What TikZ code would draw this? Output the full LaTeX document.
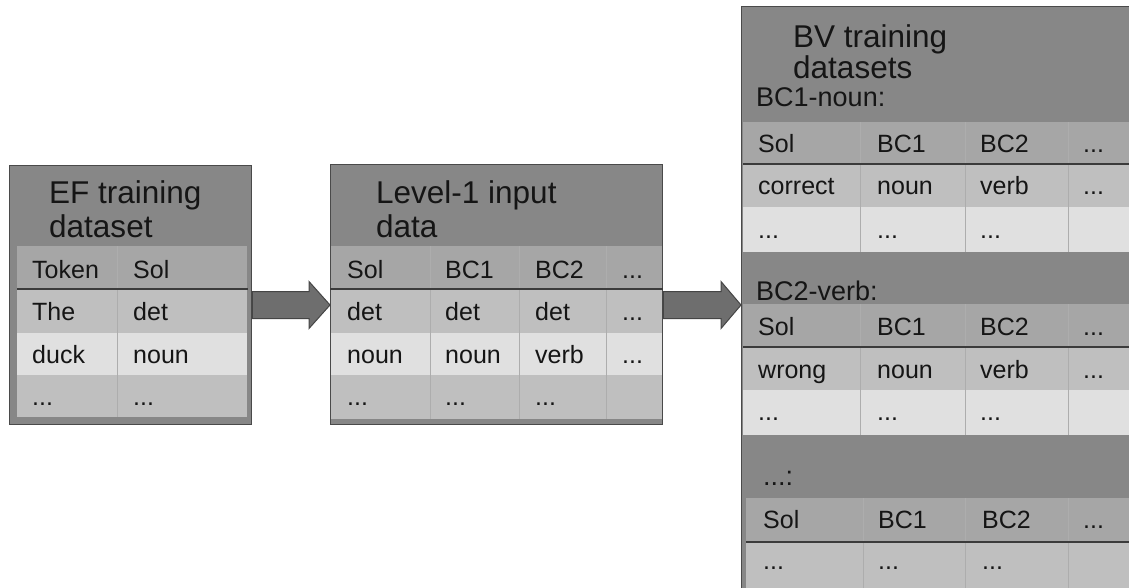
\documentclass[tikz,border=0pt]{standalone}
\usepackage{fontspec}
\setmainfont{Liberation Sans}
\usetikzlibrary{calc}
\definecolor{titlec}{HTML}{878787}
\definecolor{hdrc}{HTML}{A6A6A6}
\definecolor{medc}{HTML}{BFBFBF}
\definecolor{litc}{HTML}{E0E0E0}
\definecolor{bordc}{HTML}{4A4A4A}
\definecolor{sepc}{HTML}{ADADAD}
\definecolor{arrc}{HTML}{6E6E6E}
\definecolor{arrb}{HTML}{454545}
\definecolor{txtc}{HTML}{151515}
\begin{document}
\begin{tikzpicture}[x=1pt,y=-1pt,
  box/.style={draw=bordc, line width=1.3pt, fill=titlec, rectangle, inner sep=0pt, anchor=north west},
  ttl/.style={anchor=base west, inner sep=0pt, font=\fontsize{31.5}{34}\selectfont, text=txtc},
  cell/.style={anchor=base west, inner sep=0pt, font=\fontsize{25}{30}\selectfont, text=txtc},
  sec/.style={anchor=base west, inner sep=0pt, font=\fontsize{27}{30}\selectfont, text=txtc},
  colsep/.style={draw=sepc, line width=0.8pt},
  hline/.style={draw=bordc!80!black, line width=1.2pt},
  arr/.style={fill=arrc, draw=arrb, line width=1pt, line join=miter}
]
\useasboundingbox (0,0) rectangle (1129,587);
\clip (0,0) rectangle (1129,587);

% boxes
\node[box, minimum width=242pt, minimum height=259pt] (ef) at (9,165) {};
\node[box, minimum width=332pt, minimum height=260pt] (lv) at (330,164) {};
\node[box, minimum width=420pt, minimum height=620pt] (bv) at (741,6) {};

% arrows
\coordinate (a1s) at (ef.east |- 0,305);
\coordinate (a1e) at (lv.west |- 0,305);
\coordinate (a2s) at (lv.east |- 0,305);
\coordinate (a2e) at (bv.west |- 0,305);
\draw[arr] ($(a1s)+(0,-13.5)$) -- ($(a1e)+(-21,-13.5)$) -- ($(a1e)+(-21,-23.5)$) -- (a1e)
  -- ($(a1e)+(-21,23.5)$) -- ($(a1e)+(-21,13.5)$) -- ($(a1s)+(0,13.5)$) -- cycle;
\draw[arr] ($(a2s)+(0,-13.5)$) -- ($(a2e)+(-20,-13.5)$) -- ($(a2e)+(-20,-23.5)$) -- (a2e)
  -- ($(a2e)+(-20,23.5)$) -- ($(a2e)+(-20,13.5)$) -- ($(a2s)+(0,13.5)$) -- cycle;

% ---- box 1: EF training dataset
\node[ttl] (eft1) at (49,203) {EF training};
\node[ttl] (eft2) at (49,237) {dataset};
\fill[hdrc] (17,246) rectangle (247,289);
\fill[medc] (17,289) rectangle (247,333);
\fill[litc] (17,333) rectangle (247,375);
\fill[medc] (17,375) rectangle (247,417);
\draw[colsep] (117,246) -- (117,417);
\draw[hline] (17,289) -- (248,289);
\node[cell] (e11) at (32,278) {Token};
\node[cell] (e12) at (133,278) {Sol};
\node[cell] (e21) at (32,320) {The};
\node[cell] (e22) at (133,320) {det};
\node[cell] (e31) at (32,363) {duck};
\node[cell] (e32) at (133,363) {noun};
\node[cell] (e41) at (32,405) {...};
\node[cell] (e42) at (133,405) {...};

% ---- box 2: Level-1 input data
\node[ttl] (lvt1) at (376,203) {Level-1 input};
\node[ttl] (lvt2) at (376,237) {data};
\fill[hdrc] (331,246) rectangle (662,289);
\fill[medc] (331,289) rectangle (662,333);
\fill[litc] (331,333) rectangle (662,375);
\fill[medc] (331,375) rectangle (662,419);
\draw[colsep] (430,246) -- (430,419);
\draw[colsep] (519,246) -- (519,419);
\draw[colsep] (606,246) -- (606,419);
\draw[hline] (330,289) -- (663,289);
\node[cell] (l11) at (347,278) {Sol};
\node[cell] (l12) at (445,278) {BC1};
\node[cell] (l13) at (535,278) {BC2};
\node[cell] (l14) at (622,278) {...};
\node[cell] (l21) at (347,320) {det};
\node[cell] (l22) at (445,320) {det};
\node[cell] (l23) at (535,320) {det};
\node[cell] (l24) at (622,320) {...};
\node[cell] (l31) at (347,363) {noun};
\node[cell] (l32) at (445,363) {noun};
\node[cell] (l33) at (535,363) {verb};
\node[cell] (l34) at (622,363) {...};
\node[cell] (l41) at (347,405) {...};
\node[cell] (l42) at (445,405) {...};
\node[cell] (l43) at (535,405) {...};

% ---- box 3: BV training datasets
\node[ttl] (bvt1) at (793,47) {BV training};
\node[ttl] (bvt2) at (793,78) {datasets};
\node[sec] (s1) at (756,106) {BC1-noun:};
\fill[hdrc] (743,122) rectangle (1135,164);
\fill[medc] (743,164) rectangle (1135,207);
\fill[litc] (743,207) rectangle (1135,252);
\foreach \x in {860,965,1068} \draw[colsep] (\x,122) -- (\x,252);
\draw[hline] (743,164) -- (1135,164);
\node[cell] (a11) at (758,152) {Sol};
\node[cell] (a12) at (877,152) {BC1};
\node[cell] (a13) at (980,152) {BC2};
\node[cell] (a14) at (1083,152) {...};
\node[cell] (a21) at (758,194) {correct};
\node[cell] (a22) at (877,194) {noun};
\node[cell] (a23) at (980,194) {verb};
\node[cell] (a24) at (1083,194) {...};
\node[cell] (a31) at (758,238) {...};
\node[cell] (a32) at (877,238) {...};
\node[cell] (a33) at (980,238) {...};

\node[sec] (s2) at (756,300) {BC2-verb:};
\fill[hdrc] (743,304) rectangle (1135,347);
\fill[medc] (743,347) rectangle (1135,390);
\fill[litc] (743,390) rectangle (1135,435);
\foreach \x in {860,965,1068} \draw[colsep] (\x,304) -- (\x,435);
\draw[hline] (743,347) -- (1135,347);
\node[cell] (b11) at (758,335) {Sol};
\node[cell] (b12) at (877,335) {BC1};
\node[cell] (b13) at (980,335) {BC2};
\node[cell] (b14) at (1083,335) {...};
\node[cell] (b21) at (758,378) {wrong};
\node[cell] (b22) at (877,378) {noun};
\node[cell] (b23) at (980,378) {verb};
\node[cell] (b24) at (1083,378) {...};
\node[cell] (b31) at (758,420) {...};
\node[cell] (b32) at (877,420) {...};
\node[cell] (b33) at (980,420) {...};

\node[sec] (s3) at (763,485) {...:};
\fill[hdrc] (746,498) rectangle (1135,542);
\fill[medc] (746,542) rectangle (1135,600);
\foreach \x in {863,965,1068} \draw[colsep] (\x,498) -- (\x,600);
\draw[hline] (746,542) -- (1135,542);
\node[cell] (c11) at (763,528) {Sol};
\node[cell] (c12) at (878,528) {BC1};
\node[cell] (c13) at (982,528) {BC2};
\node[cell] (c14) at (1083,528) {...};
\node[cell] (c21) at (763,569) {...};
\node[cell] (c22) at (878,569) {...};
\node[cell] (c23) at (982,569) {...};
\end{tikzpicture}
\end{document}
